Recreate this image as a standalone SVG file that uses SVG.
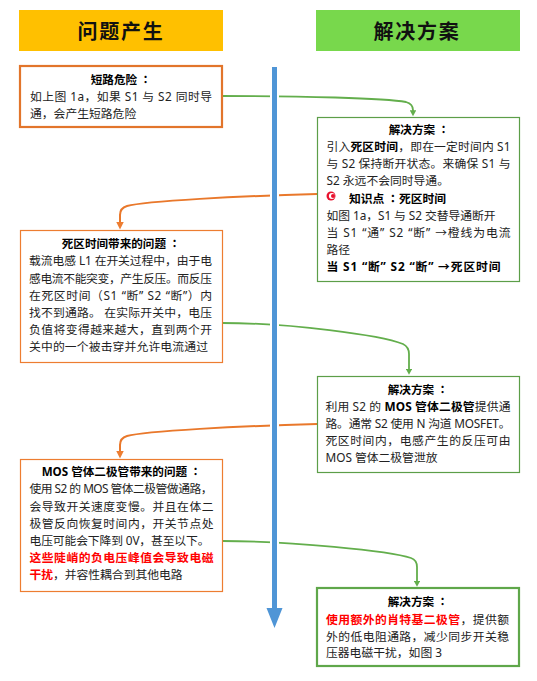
<svg xmlns="http://www.w3.org/2000/svg" width="537" height="681" viewBox="0 0 537 681">
<style>
text{font-family:"Noto Sans","Noto Sans CJK SC",sans-serif;font-size:11.8px;fill:#222}
.h{font-size:20px;font-weight:700;letter-spacing:1.7px;text-anchor:middle;fill:#111}
.t{font-weight:700;text-anchor:middle;fill:#000;font-size:11.6px}
.b{font-weight:700;fill:#000}
.r{font-weight:700;fill:#f00}
.c{font-family:"Noto Sans CJK TC",sans-serif}
.box{fill:#fff}
.o1{stroke:#ed7d31;stroke-width:1.2}
.o2{stroke:#e2752b;stroke-width:2.2}
.g1{stroke:#5c9e48;stroke-width:1.2}
.g2{stroke:#5fa74a;stroke-width:2.2}
.cg{fill:none;stroke:#63ae4c;stroke-width:1.8;marker-end:url(#ag)}
.co{fill:none;stroke:#e9782b;stroke-width:2;marker-end:url(#ao)}
</style>
<defs>
<marker id="ag" markerUnits="userSpaceOnUse" markerWidth="6.500" markerHeight="6.500" refX="3" refY="3.500" orient="auto" viewBox="0 0 7 7"><path d="M0 0L6.500 3.500 0 7Z" fill="#63ae4c"/></marker>
<marker id="ao" markerUnits="userSpaceOnUse" markerWidth="8" markerHeight="8" refX="3.500" refY="3.500" orient="auto" viewBox="0 0 7 7"><path d="M0 0L7 3.500 0 7Z" fill="#ed7d31"/></marker>
</defs>
<rect width="537" height="681" fill="#fff"/>
<g id="connectors">
<path class="cg" d="M222 96C300 96 385 98 406 102Q413 104 413 110V113"/>
<path class="co" d="M317 194C240 196 145 201 127 206Q120 208 120 215V225.500"/>
<path class="cg" d="M222 323C290 323 380 335 403 344Q409 347 409 354V371.500"/>
<path class="co" d="M317 424C240 426 145 431 127 436Q120 438 120 445V454.500"/>
<path class="cg" d="M222 541C290 541 390 551 411 558Q417 560 417 567V583.500"/>
</g>
<g id="spine">
<path d="M272 67H277V608H282.500L274.500 628 266.500 608H272Z" fill="#4f95d6" stroke="#fff" stroke-width="4" paint-order="stroke"/>
</g>
<g id="header-problem"><rect x="19" y="10" width="204" height="41" fill="#ffc000"/><text class="h" x="121" y="39">问题产生</text></g>
<g id="header-solution"><rect x="316" y="10" width="204" height="41" fill="#78d84c"/><text class="h" x="417" y="39">解决方案</text></g>
<g id="node-short-circuit">
<rect class="box o2" x="20" y="66" width="202" height="61"/>
<text class="t" x="121" y="83.500">短路危险<tspan class="c"> ：</tspan></text>
<text x="30" y="100.500" textLength="182">如上图 1a，如果 S1 与 S2 同时导</text>
<text x="30" y="117.500">通，会产生短路危险</text>
</g>
<g id="node-deadtime">
<rect class="box g1" x="317.500" y="117.500" width="202" height="164"/>
<text class="t" x="419" y="133.500">解决方案<tspan class="c"> ：</tspan></text>
<text x="326.500" y="150.500" textLength="184">引入<tspan class="b">死区时间</tspan>，即在一定时间内 S1</text>
<text x="326.500" y="167.500" textLength="184">与 S2 保持断开状态。来确保 S1 与</text>
<text x="326.500" y="185">S2 永远不会同时导通。</text>
<circle cx="331" cy="196" r="4.500" fill="#e8112d"/><circle cx="331.800" cy="196" r="2.900" fill="#fff"/><circle cx="333" cy="196" r="2" fill="#e8112d"/>
<text class="b" x="349" y="202.500">知识点<tspan class="c"> ：</tspan>死区时间</text>
<text x="326.500" y="219.500" textLength="169">如图 1a，S1 与 S2 交替导通断开</text>
<text x="326.500" y="237" textLength="184">当 S1 “通” S2 “断” →橙线为电流</text>
<text x="326.500" y="254">路径</text>
<text class="b" x="326.500" y="271" textLength="174">当 S1 “断” S2 “断” →死区时间</text>
</g>
<g id="node-deadtime-problem">
<rect class="box o1" x="20.500" y="230.500" width="202" height="132"/>
<text class="t" x="121" y="247.500">死区时间带来的问题<tspan class="c"> ：</tspan></text>
<text x="29" y="264.500" textLength="183">载流电感 L1 在开关过程中，由于电</text>
<text x="29" y="282.500" textLength="183">感电流不能突变，产生反压。而反压</text>
<text x="29" y="299.500" textLength="183">在死区时间（S1 “断” S2 “断”）内</text>
<text x="29" y="316.500" textLength="183">找不到通路。 在实际开关中，电压</text>
<text x="29" y="333.500" textLength="183">负值将变得越来越大，直到两个开</text>
<text x="29" y="350.500" textLength="179">关中的一个被击穿并允许电流通过</text>
</g>
<g id="node-body-diode">
<rect class="box g1" x="317.500" y="376.500" width="202" height="96"/>
<text class="t" x="418" y="393.500">解决方案<tspan class="c"> ：</tspan></text>
<text x="325.500" y="410.500" textLength="185">利用 S2 的 <tspan class="b">MOS 管体二极管</tspan>提供通</text>
<text x="325.500" y="427.500" textLength="185">路。通常 S2 使用 N 沟道 MOSFET。</text>
<text x="325.500" y="444.500" textLength="185">死区时间内，电感产生的反压可由</text>
<text x="325.500" y="461.500" textLength="112">MOS 管体二极管泄放</text>
</g>
<g id="node-body-diode-problem">
<rect class="box o1" x="20.500" y="459.500" width="202" height="132"/>
<text class="t" x="121.500" y="475.500">MOS 管体二极管带来的问题<tspan class="c"> ：</tspan></text>
<text x="29.500" y="492.500" textLength="183">使用 S2 的 MOS 管体二极管做通路，</text>
<text x="29.500" y="510.500" textLength="184">会导致开关速度变慢。并且在体二</text>
<text x="29.500" y="527.500" textLength="184">极管反向恢复时间内，开关节点处</text>
<text x="29.500" y="544.500" textLength="180">电压可能会下降到 0V，甚至以下。</text>
<text class="r" x="29.500" y="561.500" textLength="184">这些陡峭的负电压峰值会导致电磁</text>
<text x="29.500" y="578.500" textLength="153"><tspan class="r">干扰</tspan>，并容性耦合到其他电路</text>
</g>
<g id="node-schottky">
<rect class="box g2" x="317" y="588" width="202" height="78"/>
<text class="t" x="418" y="605.500">解决方案<tspan class="c"> ：</tspan></text>
<text x="326" y="623.500" textLength="183"><tspan class="r">使用额外的肖特基二极管</tspan>，提供额</text>
<text x="326" y="640.500" textLength="183">外的低电阻通路，减少同步开关稳</text>
<text x="326" y="656.500">压器电磁干扰，如图 3</text>
</g>
</svg>
